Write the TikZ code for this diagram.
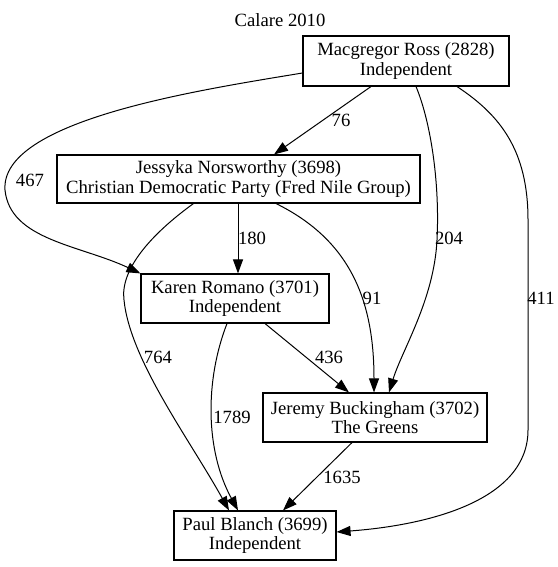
\documentclass[tikz,border=0pt]{standalone}
\usepackage{fontspec}
\setmainfont{Liberation Serif}
\usetikzlibrary{arrows.meta}
\begin{document}
\begin{tikzpicture}[x=1pt,y=-1pt,
  every node/.style={font=\fontsize{18.67}{19.5}\selectfont},
  box/.style={draw, line width=1.1pt, align=center, inner sep=0pt},
  conn/.style={draw, line width=1pt, -{Triangle[length=14pt,width=10pt]}},
  lbl/.style={inner sep=0pt}]
\useasboundingbox (0,0) rectangle (557,567);
\node (title) at (280,20) {Calare 2010};
\node[box, minimum width=206pt, minimum height=50pt] (mac) at (406,61) {Macgregor Ross (2828)\\Independent};
\node[box, minimum width=363pt, minimum height=48pt] (jes) at (238.5,179) {Jessyka Norsworthy (3698)\\Christian Democratic Party (Fred Nile Group)};
\node[box, minimum width=188pt, minimum height=49pt] (kar) at (235,298.5) {Karen Romano (3701)\\Independent};
\node[box, minimum width=224pt, minimum height=49pt] (jer) at (375,417.5) {Jeremy Buckingham (3702)\\The Greens};
\node[box, minimum width=162pt, minimum height=49pt] (pau) at (255,535.5) {Paul Blanch (3699)\\Independent};

% Macgregor -> Jessyka
\draw[conn] ([xshift=-35pt]mac.south) -- ([xshift=35.5pt]jes.north)
  node[lbl] (l76) at (341,120) {76};
% Macgregor -> Karen
\draw[conn] ([yshift=-12pt]mac.west) .. controls (200,90) and (0,120) .. (5,190)
  .. controls (10,240) and (80,245) .. (kar.north west)
  node[lbl] (l467) at (30,180) {467};
% Macgregor -> Jeremy
\draw[conn] ([xshift=10pt]mac.south) .. controls (430,120) and (440,180) .. (437,240)
  .. controls (434,300) and (402,350) .. ([xshift=14pt]jer.north)
  node[lbl] (l204) at (449,238) {204};
% Macgregor -> Paul
\draw[conn] ([xshift=51pt]mac.south) .. controls (500,115) and (528,150) .. (528,220)
  -- (528,430) .. controls (528,500) and (430,525) .. ([yshift=3.5pt]pau.east)
  node[lbl] (l411) at (541,298) {411};
% Jessyka -> Karen
\draw[conn] ([xshift=-0.5pt]jes.south) -- ([xshift=3pt]kar.north)
  node[lbl] (l180) at (252,238) {180};
% Jessyka -> Jeremy
\draw[conn] ([xshift=37.5pt]jes.south) .. controls (350,240) and (374,300) .. ([xshift=-1pt]jer.north)
  node[lbl] (l91) at (372,298) {91};
% Jessyka -> Paul
\draw[conn] ([xshift=-45pt]jes.south) .. controls (150,235) and (120,270) .. (124,300)
  .. controls (130,360) and (190,440) .. ([xshift=-26pt]pau.north)
  node[lbl] (l764) at (158,357) {764};
% Karen -> Jeremy
\draw[conn] ([xshift=30pt]kar.south) -- ([xshift=-26pt]jer.north)
  node[lbl] (l436) at (329,357) {436};
% Karen -> Paul
\draw[conn] ([xshift=-8pt]kar.south) .. controls (205,380) and (205,450) .. ([xshift=-17pt]pau.north)
  node[lbl] (l1789) at (232,417) {1789};
% Jeremy -> Paul
\draw[conn] ([xshift=-23pt]jer.south) -- ([xshift=28pt]pau.north)
  node[lbl] (l1635) at (342,477) {1635};
\end{tikzpicture}
\end{document}
